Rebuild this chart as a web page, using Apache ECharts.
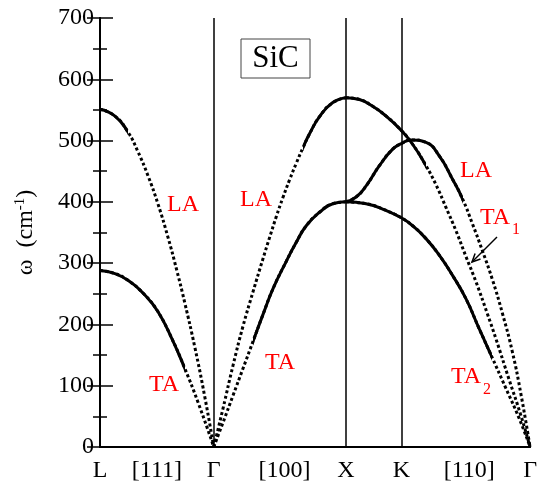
<!DOCTYPE html>
<html>
<head>
<meta charset="utf-8">
<script src="https://cdn.jsdelivr.net/npm/echarts@6/dist/echarts.min.js"></script>
<style>
html, body { margin: 0; padding: 0; background: #fff; }
#chart { width: 540px; height: 483px; }
</style>
</head>
<body>
<div id="chart"></div>
<script>
// path coordinate along L-Γ-X-K-Γ, frequency in cm^-1
const laLG = [[0,551],[15,540],[28,514],[38,482],[48,443],[58,397],[68,343],[77,288],[85,235],[95,163],[105,82],[114,0]];
const taLG = [[0,288],[15,283],[28,272],[45,248],[58,221],[72,177],[85,128],[98,74],[114,0]];
const laGX = [[114,0],[123.3,63],[133.3,133],[143.3,197],[153.3,253],[163.3,307],[170,342],[176.7,376],[183.3,407],[190,436],[196.7,463],[203.3,488],[210,511],[220,539],[233.3,562],[246.5,570]];
const taGX = [[114,0],[123.3,40],[133.3,84],[143.3,128],[153.3,172],[163.3,216],[173.3,258],[186.7,303],[196.7,334],[206.7,361],[220,383],[233.3,397],[246.5,400]];
// X -> K -> Γ branches (they cross near K)
const upperXK = [[246.5,570],[260,567],[273.3,556],[286.7,540],[301.7,517],[313.3,494],[326.7,459],[336.7,428],[346.7,391],[356.7,353],[366.7,311],[376.7,270],[388.3,217],[396.7,177],[410,110],[421.7,52],[431,0]];
const midXK = [[246.5,400],[256.7,408],[266.7,426],[280,459],[293.3,486],[302,495],[311.7,501],[326.7,497],[340,475],[353.3,437],[363.3,405],[373.3,364],[383.3,320],[393.3,273],[403.3,218],[413.3,155],[422,85],[431,0]];
const lowXK = [[246.5,400],[266.7,397],[286.7,386],[302,374],[313.3,361],[326.7,340],[340,313],[353.3,280],[366.7,242],[380,193],[393.3,145],[406.7,96],[420,47],[431,0]];

const symPos = [114, 246.5, 302];
const xLabelPos = [0, 57, 114, 185, 246.5, 302, 370, 431];
const xLabelText = ['L', '[111]', 'Γ', '[100]', 'X', 'K', '[110]', 'Γ'];

const serif = 'Liberation Serif';

// flat parts look solid, steep parts dotted (like the sampled points)
const branches = [
  { pts: laLG, solid: [0, 28] },
  { pts: taLG, solid: [0, 85] },
  { pts: laGX, solid: [203.3, 246.5] },
  { pts: taGX, solid: [153.3, 246.5] },
  { pts: upperXK, solid: [246.5, 326.7] },
  { pts: midXK, solid: [246.5, 363.3] },
  { pts: lowXK, solid: [246.5, 393.3] }
];

function lineSeries(data, dotted) {
  const s = {
    type: 'line',
    data: data,
    smooth: 0.5,
    symbol: 'none',
    silent: true,
    lineStyle: { width: 3, type: dotted ? [3, 2.5] : 'solid', cap: 'butt' }
  };
  // the solid copy takes its colour from the visualMap
  if (dotted) s.lineStyle.color = '#000';
  return s;
}

// each branch: dotted full curve, then the same curve solid, masked by a visualMap
const series = [];
const visualMaps = [];
branches.forEach(b => {
  series.push(lineSeries(b.pts, true));
  series.push(lineSeries(b.pts, false));
  visualMaps.push({
    type: 'piecewise',
    show: false,
    dimension: 0,
    seriesIndex: series.length - 1,
    pieces: [{ gte: b.solid[0], lte: b.solid[1], color: '#000' }],
    outOfRange: { color: 'rgba(0,0,0,0)' }
  });
});

series[0].markLine = {
  silent: true,
  symbol: ['none', 'none'],
  label: { show: false },
  lineStyle: { color: '#000', width: 1.5, type: 'solid' },
  data: symPos.map(v => ({ xAxis: v }))
};

const yAxisBase = {
  type: 'value',
  min: 0,
  max: 700,
  interval: 100,
  splitLine: { show: false },
  axisLine: { show: true, lineStyle: { color: '#000', width: 2 } },
  axisTick: { show: true, inside: true, length: 13, lineStyle: { color: '#000', width: 1.5 } },
  minorTick: { show: true, splitNumber: 2, length: 7, lineStyle: { color: '#000', width: 1.5 } }
};

const redText = (text, x, y, size) => ({
  type: 'text',
  x: x,
  y: y,
  silent: true,
  style: {
    text: text,
    fill: '#ff0000',
    font: (size || 24) + 'px "' + serif + '"',
    align: 'center',
    verticalAlign: 'middle'
  }
});

const chart = echarts.init(document.getElementById('chart'));
chart.setOption({
  animation: false,
  backgroundColor: '#fff',
  grid: { left: 100, right: 9, top: 18, bottom: 34 },
  visualMap: visualMaps,
  xAxis: [
    {
      type: 'value',
      min: 0,
      max: 431,
      splitLine: { show: false },
      axisTick: { show: false },
      axisLine: { show: true, lineStyle: { color: '#000', width: 2 } },
      axisLabel: {
        customValues: xLabelPos,
        margin: 12,
        color: '#000',
        fontFamily: serif,
        fontSize: 24,
        formatter: v => xLabelText[xLabelPos.indexOf(v)]
      }
    },
    {
      type: 'value',
      position: 'top',
      min: 0,
      max: 431,
      splitLine: { show: false },
      axisTick: { show: false },
      axisLabel: { show: false },
      axisLine: { show: true, lineStyle: { color: '#000', width: 2 } }
    }
  ],
  yAxis: [
    Object.assign({}, yAxisBase, {
      position: 'left',
      axisLabel: { color: '#000', fontFamily: serif, fontSize: 24, margin: 6 },
      name: '{a|ω  (cm}{b|-1}{a|)}',
      nameLocation: 'middle',
      nameRotate: 90,
      nameGap: 62,
      nameTextStyle: {
        rich: {
          a: { fontFamily: serif, fontSize: 24, color: '#000' },
          b: { fontFamily: serif, fontSize: 15, color: '#000', verticalAlign: 'top', padding: [0, 0, 10, 0] }
        }
      }
    }),
    Object.assign({}, yAxisBase, {
      position: 'right',
      axisLabel: { show: false }
    })
  ],
  series: series,
  graphic: [
    {
      type: 'rect',
      shape: { x: 241, y: 39, width: 69, height: 39 },
      silent: true,
      style: { fill: '#fff', stroke: '#444', lineWidth: 1 }
    },
    {
      type: 'text',
      x: 275.5,
      y: 59,
      silent: true,
      style: { text: 'SiC', fill: '#000', font: '31px "' + serif + '"', align: 'center', verticalAlign: 'middle' }
    },
    redText('LA', 183, 205),
    redText('LA', 256, 200),
    redText('LA', 476, 171),
    redText('TA', 495, 218),
    redText('1', 516, 230, 16),
    redText('TA', 164, 385),
    redText('TA', 280, 363),
    redText('TA', 466, 377),
    redText('2', 487, 390, 16),
    {
      type: 'polyline',
      silent: true,
      shape: { points: [[497, 237], [472, 262]] },
      style: { stroke: '#000', lineWidth: 1.5, fill: null }
    },
    {
      type: 'polyline',
      silent: true,
      shape: { points: [[480.5, 259], [472, 262], [475.1, 253.5]] },
      style: { stroke: '#000', lineWidth: 1.5, fill: null }
    }
  ]
});
</script>
</body>
</html>
